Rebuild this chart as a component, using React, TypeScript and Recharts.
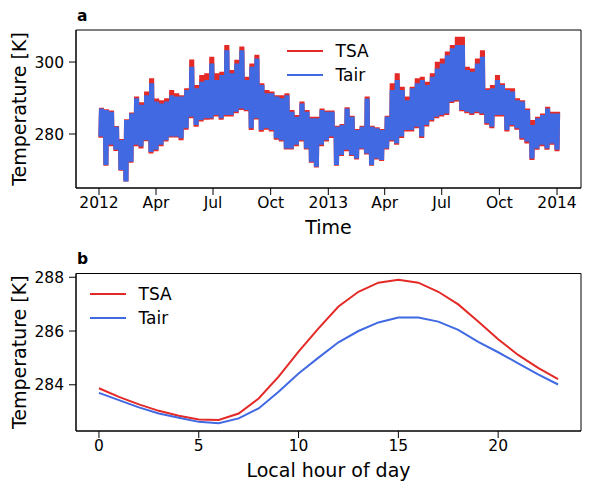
import React from "react";
import { LineChart, Line, XAxis, YAxis, Legend, Label, ReferenceArea } from "recharts";

const FONT = "'DejaVu Sans', sans-serif";
const RED = "#e32a27";
const BLUE = "#4169e1";

// panel a: 8-day blocks from 2012-01-01, upper / lower envelope of the hourly temps (K)
const blockDays = 8;
const tsaHigh = [
  287.3, 286.9, 286.5, 282.2, 278.6, 284.1, 286.0, 290.4, 288.8, 291.8,
  295.5, 289.9, 289.4, 289.9, 292.2, 291.3, 290.8, 292.7, 300.7, 293.6,
  296.4, 296.9, 301.5, 296.9, 297.3, 304.7, 297.8, 300.6, 304.3, 295.9,
  299.6, 302.0, 294.1, 292.2, 291.8, 290.8, 290.8, 291.3, 286.7, 285.3,
  289.0, 286.7, 284.8, 284.8, 287.1, 286.5, 286.5, 282.3, 282.8, 287.4,
  285.1, 281.4, 282.3, 290.4, 282.3, 281.9, 281.4, 285.1, 294.1, 296.9,
  293.1, 290.4, 293.1, 295.5, 295.9, 294.5, 296.9, 300.1, 301.0, 302.9,
  304.7, 307.0, 307.0, 298.7, 298.2, 301.0, 303.3, 292.7, 293.6, 296.4,
  294.1, 292.7, 292.7, 289.9, 289.4, 287.1, 283.9, 284.8, 285.7, 287.6,
  286.2, 286.2,
];
const tsaLow = [
  279.0, 271.2, 276.6, 275.3, 269.8, 266.8, 272.0, 276.6, 276.0, 278.0,
  274.6, 275.2, 276.6, 277.9, 279.0, 279.0, 278.3, 281.2, 284.4, 282.0,
  283.5, 284.0, 284.0, 284.9, 284.0, 284.9, 284.9, 285.8, 286.7, 286.3,
  281.1, 284.0, 280.6, 281.2, 280.7, 278.4, 277.9, 275.7, 275.7, 276.6,
  277.9, 275.7, 272.0, 270.7, 276.6, 277.9, 278.9, 271.2, 273.9, 275.2,
  273.9, 272.9, 275.7, 274.3, 271.2, 272.9, 272.5, 275.7, 277.9, 277.0,
  278.9, 280.7, 280.7, 281.6, 278.9, 282.1, 283.5, 284.4, 284.9, 285.3,
  288.6, 289.0, 286.3, 285.8, 285.3, 285.8, 285.3, 282.6, 281.6, 284.9,
  284.9, 280.7, 282.1, 281.2, 278.4, 277.4, 272.8, 275.6, 276.6, 275.6,
  277.0, 275.2,
];
const tairHigh = [
  287.1, 286.7, 286.2, 282.0, 278.3, 283.9, 285.7, 289.9, 288.1, 290.8,
  294.1, 289.0, 288.5, 289.0, 290.8, 290.4, 290.4, 292.2, 298.7, 292.7,
  294.5, 295.0, 299.6, 295.0, 296.4, 303.3, 296.9, 299.6, 303.3, 295.0,
  298.7, 301.0, 293.6, 291.3, 291.3, 290.4, 289.9, 290.8, 286.2, 284.8,
  288.5, 286.2, 284.4, 284.4, 286.7, 286.2, 286.2, 282.0, 282.5, 287.1,
  284.8, 281.1, 282.0, 289.9, 282.0, 281.6, 281.1, 284.8, 292.2, 295.0,
  292.2, 289.4, 292.7, 294.1, 295.0, 293.6, 295.9, 298.2, 299.6, 301.9,
  303.8, 304.7, 304.7, 297.8, 297.3, 299.6, 301.5, 292.2, 292.7, 295.0,
  293.6, 292.2, 291.8, 289.4, 289.0, 286.7, 282.5, 284.4, 285.3, 287.1,
  285.7, 285.7,
];
const tairLow = [
  279.3, 271.4, 277.0, 275.6, 270.0, 266.8, 272.3, 277.0, 276.5, 278.3,
  275.0, 275.6, 277.0, 278.3, 279.3, 279.3, 278.8, 281.6, 284.8, 282.5,
  283.9, 284.4, 284.4, 285.3, 284.4, 285.3, 285.3, 286.2, 287.1, 286.7,
  281.6, 284.4, 281.1, 281.6, 281.1, 278.8, 278.3, 276.0, 276.0, 277.0,
  278.3, 276.0, 272.3, 270.9, 277.0, 278.3, 279.3, 271.4, 274.2, 275.6,
  274.2, 273.2, 276.0, 274.6, 271.4, 273.2, 272.8, 276.0, 278.3, 277.4,
  279.3, 281.1, 281.1, 282.0, 279.3, 282.5, 283.9, 284.8, 285.3, 285.7,
  289.0, 289.4, 286.7, 286.2, 285.7, 286.2, 285.7, 283.0, 282.0, 285.3,
  285.3, 281.1, 282.5, 281.6, 278.8, 277.9, 273.2, 276.0, 277.0, 276.0,
  277.4, 275.6,
];

// days since 2012-01-01
const timeTicks = [0, 91, 182, 274, 366, 456, 547, 639, 731];
const timeTickLabels = ["2012", "Apr", "Jul", "Oct", "2013", "Apr", "Jul", "Oct", "2014"];

// panel b: mean diurnal cycle
const hours = [0, 1, 2, 3, 4, 5, 6, 7, 8, 9, 10, 11, 12, 13, 14, 15, 16, 17, 18, 19, 20, 21, 22, 23];
const tsaHourly = [
  283.87, 283.55, 283.27, 283.03, 282.85, 282.71, 282.69, 282.93, 283.49, 284.3, 285.23, 286.1,
  286.91, 287.46, 287.8, 287.91, 287.8, 287.46, 286.99, 286.35, 285.69, 285.11, 284.63, 284.21,
];
const tairHourly = [
  283.7, 283.43, 283.16, 282.93, 282.77, 282.62, 282.57, 282.75, 283.12, 283.74, 284.42, 285.01,
  285.58, 286.0, 286.32, 286.5, 286.5, 286.35, 286.04, 285.6, 285.21, 284.8, 284.39, 284.01,
];
const hourTicks = [0, 5, 10, 15, 20];

// one low/high swing per day inside each block
const seriesA: { day: number; tsa: number; tair: number }[] = [];
tairHigh.forEach((_, i) => {
  for (let k = 0; k < blockDays; k++) {
    const hi = k % 2 === 1;
    seriesA.push({
      day: i * blockDays + k,
      tsa: hi ? tsaHigh[i] : tsaLow[i],
      tair: hi ? tairHigh[i] : tairLow[i],
    });
  }
});

const seriesB = hours.map((h, i) => ({ hour: h, tsa: tsaHourly[i], tair: tairHourly[i] }));

const legendItems = [
  { name: "TSA", color: RED },
  { name: "Tair", color: BLUE },
];

const LegendBox = () => (
  <div style={{ fontFamily: FONT, fontSize: 17, color: "#000" }}>
    {legendItems.map((it) => (
      <div key={it.name} style={{ display: "flex", alignItems: "center", height: 24 }}>
        <svg width={36} height={4} style={{ display: "block" }}>
          <line x1={0} y1={2} x2={36} y2={2} stroke={it.color} strokeWidth={2} />
        </svg>
        <span style={{ marginLeft: 12.5, lineHeight: "24px" }}>{it.name}</span>
      </div>
    ))}
  </div>
);

const tickStyle = { fontSize: 15.5, fill: "#000" };
const axisLine = { stroke: "#000", strokeWidth: 1 };
const tickLine = { stroke: "#000", strokeWidth: 1 };

const panelLabel = (text: string, top: number) => (
  <div
    style={{
      position: "absolute",
      left: 77,
      top,
      fontFamily: FONT,
      fontWeight: "bold",
      fontSize: 15.5,
      lineHeight: "15.5px",
    }}
  >
    {text}
  </div>
);

const App = () => {
  const domA: [number, number] = [-36.7, 769.3];
  const tempA: [number, number] = [265.0, 308.9];
  const domB: [number, number] = [-1.15, 24.15];
  const tempB: [number, number] = [282.28, 288.14];

  return (
    <div
      style={{
        position: "absolute",
        left: 0,
        top: 0,
        width: 589,
        height: 490,
        background: "#fff",
        fontFamily: FONT,
      }}
    >
      <div style={{ position: "absolute", left: 0, top: 0 }}>
        <LineChart width={589} height={245} data={seriesA} margin={{ top: 30, right: 8, bottom: 0, left: 0 }}>
          <XAxis
            dataKey="day"
            type="number"
            domain={domA}
            allowDataOverflow
            ticks={timeTicks}
            tickFormatter={(v: number) => timeTickLabels[timeTicks.indexOf(v)]}
            height={57}
            tick={tickStyle}
            tickSize={7}
            tickMargin={2}
            axisLine={axisLine}
            tickLine={tickLine}
            interval={0}
          >
            <Label value="Time" position="insideBottom" offset={11} fontSize={19} fill="#000" />
          </XAxis>
          <YAxis
            type="number"
            domain={tempA}
            allowDataOverflow
            ticks={[280, 300]}
            width={76}
            tick={tickStyle}
            tickSize={7}
            tickMargin={5}
            axisLine={axisLine}
            tickLine={tickLine}
          >
            <Label value="Temperature [K]" angle={-90} position="center" dx={-19} fontSize={19} fill="#000" />
          </YAxis>
          <Legend
            layout="vertical"
            align="center"
            verticalAlign="middle"
            content={() => <LegendBox />}
            wrapperStyle={{ left: 287, top: 38.5, width: 120, height: 50 }}
          />
          <Line dataKey="tsa" name="TSA" stroke={RED} strokeWidth={1.3} dot={false} isAnimationActive={false} />
          <Line dataKey="tair" name="Tair" stroke={BLUE} strokeWidth={1.3} dot={false} isAnimationActive={false} />
          <ReferenceArea
            x1={domA[0]}
            x2={domA[1]}
            y1={tempA[0]}
            y2={tempA[1]}
            fill="none"
            fillOpacity={0}
            stroke="#000"
            strokeWidth={1}
            ifOverflow="visible"
          />
        </LineChart>
      </div>

      <div style={{ position: "absolute", left: 0, top: 245 }}>
        <LineChart width={589} height={245} data={seriesB} margin={{ top: 28.5, right: 8, bottom: 0, left: 0 }}>
          <XAxis
            dataKey="hour"
            type="number"
            domain={domB}
            allowDataOverflow
            ticks={hourTicks}
            height={59}
            tick={tickStyle}
            tickSize={7}
            tickMargin={2}
            axisLine={axisLine}
            tickLine={tickLine}
            interval={0}
          >
            <Label value="Local hour of day" position="insideBottom" offset={13} fontSize={19} fill="#000" />
          </XAxis>
          <YAxis
            type="number"
            domain={tempB}
            allowDataOverflow
            ticks={[284, 286, 288]}
            width={76}
            tick={tickStyle}
            tickSize={7}
            tickMargin={5}
            axisLine={axisLine}
            tickLine={tickLine}
          >
            <Label value="Temperature [K]" angle={-90} position="center" dx={-19} fontSize={19} fill="#000" />
          </YAxis>
          <Legend
            layout="vertical"
            align="center"
            verticalAlign="middle"
            content={() => <LegendBox />}
            wrapperStyle={{ left: 90, top: 37, width: 120, height: 50 }}
          />
          <Line dataKey="tsa" name="TSA" stroke={RED} strokeWidth={2} dot={false} isAnimationActive={false} />
          <Line dataKey="tair" name="Tair" stroke={BLUE} strokeWidth={2} dot={false} isAnimationActive={false} />
          <ReferenceArea
            x1={domB[0]}
            x2={domB[1]}
            y1={tempB[0]}
            y2={tempB[1]}
            fill="none"
            fillOpacity={0}
            stroke="#000"
            strokeWidth={1}
            ifOverflow="visible"
          />
        </LineChart>
      </div>

      {panelLabel("a", 8.6)}
      {panelLabel("b", 252)}
    </div>
  );
};

export default App;
